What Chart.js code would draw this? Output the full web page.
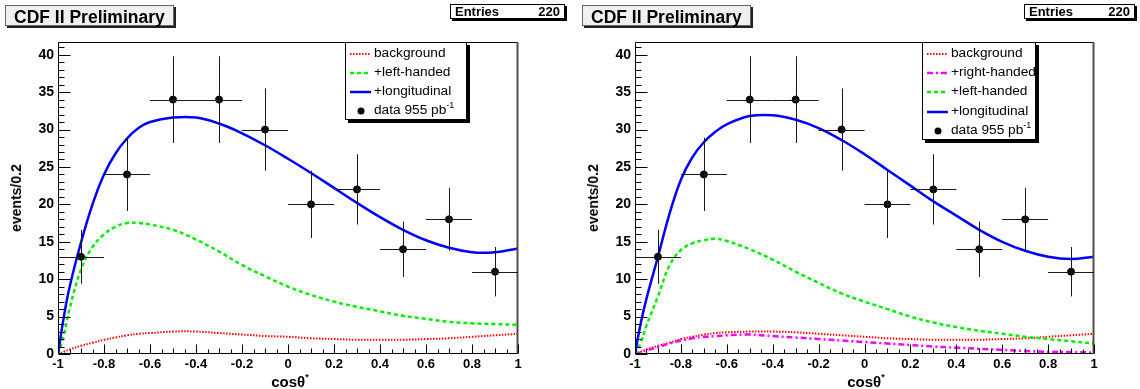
<!DOCTYPE html>
<html>
<head>
<meta charset="utf-8">
<script src="https://cdn.jsdelivr.net/npm/chart.js@4"></script>
<style>
  body { margin: 0; background: #fff; font-family: 'Liberation Sans', Arial, Helvetica, sans-serif; }
  .panel { position: absolute; top: 0; width: 570px; height: 389px; }
  .panel canvas { position: absolute; left: 0; top: 0; }
  .title { position: absolute; top: 5px; height: 21px; line-height: 22px; background: #f0f0f0;
           border: 1px solid #666; box-shadow: 2px 2px 0 #222; font-weight: bold; font-size: 17.5px;
           padding-left: 8px; box-sizing: border-box; white-space: nowrap; }
  .entries { position: absolute; top: 4px; height: 15px; background: #fff; border: 1px solid #000;
             box-shadow: 2px 2px 0 #000; font-weight: bold; font-size: 13px; line-height: 13px;
             box-sizing: border-box; padding: 0 4px; display: flex; justify-content: space-between; }
  .legend { position: absolute; top: 42px; background: #fff; border: 1px solid #000;
            box-shadow: 3px 3px 0 #000; box-sizing: border-box; font-size: 13.7px; }
  .legend .row { position: absolute; left: 0; height: 16px; line-height: 16px; white-space: nowrap; }
  .legend svg { position: absolute; left: 4px; top: 3px; }
  .legend span { position: absolute; left: 28px; top: -1px; }
  .legend sup { font-size: 9px; vertical-align: 6px; line-height: 0; }
  .ytitle { position: absolute; transform: translate(-50%, -50%) rotate(-90deg); font-weight: bold;
            font-size: 14px; white-space: nowrap; }
  .xtitle { position: absolute; transform: translate(-50%, -50%); font-weight: bold; font-size: 15px;
            white-space: nowrap; }
  .xtitle sup { font-size: 9px; vertical-align: 7px; line-height: 0; }
</style>
</head>
<body>
<div class="panel" id="p0" style="left:0"><canvas id="c0" width="570" height="389"></canvas></div>
<div class="panel" id="p1" style="left:570px"><canvas id="c1" width="570" height="389"></canvas></div>
<script>
// histogram: 10 bins of width 0.2 in cos theta*
const binCentres = [-0.9, -0.7, -0.5, -0.3, -0.1, 0.1, 0.3, 0.5, 0.7, 0.9];
const binHalfWidths = [0.1, 0.1, 0.1, 0.1, 0.1, 0.1, 0.1, 0.1, 0.1, 0.1];
const counts = [13, 24, 34, 34, 30, 20, 22, 14, 18, 11];
const countErrors = [3.6, 4.9, 5.8, 5.8, 5.5, 4.5, 4.7, 3.7, 4.2, 3.3];
const entries = 220;

// fit curves
const curveX = [-1, -0.975, -0.95, -0.9, -0.85, -0.8, -0.75, -0.7, -0.65, -0.6, -0.5, -0.4, -0.3,
                -0.2, -0.1, 0, 0.1, 0.2, 0.3, 0.4, 0.5, 0.6, 0.7, 0.8, 0.9, 1];

// left: background + left-handed + longitudinal
const leftBackground   = [0, 0.3, 0.6, 1.1, 1.5, 1.9, 2.2, 2.5, 2.7, 2.8, 3.0, 3.0, 2.8, 2.6, 2.4, 2.3, 2.1, 2.0, 1.9, 1.9, 1.9, 2.0, 2.1, 2.3, 2.5, 2.7];
const leftLeftHanded   = [0, 2.5, 6.0, 11.3, 14.3, 16.0, 17.0, 17.5, 17.5, 17.3, 16.6, 15.3, 13.7, 11.9, 10.4, 9.0, 7.9, 7.0, 6.3, 5.7, 5.1, 4.7, 4.3, 4.1, 4.0, 3.9];
const leftLongitudinal = [0, 4.9, 8.9, 14.9, 20.0, 24.0, 26.8, 28.8, 30.2, 31.0, 31.6, 31.6, 30.8, 29.5, 27.9, 26.1, 24.2, 22.2, 20.2, 18.3, 16.6, 15.2, 14.2, 13.6, 13.6, 14.1];

// right: background + right-handed + left-handed + longitudinal
const rightBackground   = [0, 0.3, 0.6, 1.1, 1.5, 2.0, 2.3, 2.6, 2.8, 2.9, 3.0, 3.0, 2.9, 2.7, 2.5, 2.3, 2.1, 2.0, 1.9, 1.9, 1.9, 2.0, 2.1, 2.3, 2.5, 2.7];
const rightRightHanded  = [0, 0.2, 0.5, 0.9, 1.4, 1.8, 2.1, 2.3, 2.4, 2.5, 2.6, 2.4, 2.2, 2.0, 1.8, 1.6, 1.4, 1.2, 1.0, 0.85, 0.7, 0.55, 0.4, 0.3, 0.25, 0.2];
const rightLeftHanded   = [0, 1.5, 3.8, 7.7, 11.8, 13.9, 14.8, 15.2, 15.4, 15.1, 14.0, 12.6, 11.0, 9.5, 8.1, 7.0, 6.0, 5.0, 4.2, 3.6, 3.1, 2.7, 2.3, 2.0, 1.7, 1.4];
const rightLongitudinal = [0, 4.1, 7.4, 13.0, 18.7, 23.3, 26.3, 28.3, 29.7, 30.7, 31.8, 31.9, 31.3, 30.2, 28.6, 26.7, 24.6, 22.5, 20.4, 18.5, 16.6, 15.0, 13.8, 13.0, 12.7, 13.0];

// axes
const xTickValues = [-1, -0.8, -0.6, -0.4, -0.2, 0, 0.2, 0.4, 0.6, 0.8, 1];
const xTickLabels = ['-1', '-0.8', '-0.6', '-0.4', '-0.2', '0', '0.2', '0.4', '0.6', '0.8', '1'];
const yTickValues = [0, 5, 10, 15, 20, 25, 30, 35, 40];
const yTickLabels = ['0', '5', '10', '15', '20', '25', '30', '35', '40'];
const yMax = 41.7;

const FONT = "'Liberation Sans', Arial, Helvetica, sans-serif";

// ROOT style frame with ticks pointing inwards
const rootFrame = {
  id: 'rootFrame',
  afterDatasetsDraw(chart) {
    const { ctx, chartArea: a, scales: { x, y } } = chart;
    const L = Math.round(a.left) + 0.5, R = Math.round(a.right) - 0.5;
    const T = Math.round(a.top) + 0.5, B = Math.round(a.bottom) - 0.5;
    ctx.save();
    ctx.lineWidth = 1;
    ctx.strokeStyle = '#000';
    ctx.beginPath();
    ctx.moveTo(R, T); ctx.lineTo(L, T); ctx.lineTo(L, B); ctx.lineTo(R, B);
    ctx.stroke();
    ctx.strokeStyle = '#5a4848';
    ctx.lineWidth = 2;
    ctx.beginPath(); ctx.moveTo(R, T - 0.5); ctx.lineTo(R, B + 0.5); ctx.stroke();
    // y ticks: every unit, long ones every 5
    ctx.strokeStyle = '#000';
    ctx.lineWidth = 1;
    ctx.beginPath();
    for (let v = 0; v <= Math.floor(yMax); v++) {
      const py = Math.round(y.getPixelForValue(v)) + 0.5;
      const len = v % 5 === 0 ? 12 : 6;
      ctx.moveTo(L, py); ctx.lineTo(L + len, py);
    }
    // x ticks: every 0.05, long ones every 0.2
    for (let k = -20; k <= 20; k++) {
      const px = Math.round(x.getPixelForValue(k / 20)) + 0.5;
      const len = k % 4 === 0 ? 9 : (k % 2 === 0 ? 5 : 4);
      ctx.moveTo(px, B); ctx.lineTo(px, B - len);
    }
    ctx.stroke();
    ctx.restore();
  }
};

// horizontal (bin width) and vertical (stat) error bars for the data set
const errorBars = {
  id: 'errorBars',
  afterDatasetsDraw(chart) {
    const { ctx, scales: { x, y } } = chart;
    ctx.save();
    ctx.strokeStyle = '#1a1a1a';
    ctx.lineWidth = 1;
    ctx.beginPath();
    binCentres.forEach((c, i) => {
      const px = Math.round(x.getPixelForValue(c)) + 0.5;
      const py = Math.round(y.getPixelForValue(counts[i])) + 0.5;
      ctx.moveTo(x.getPixelForValue(c - binHalfWidths[i]), py);
      ctx.lineTo(x.getPixelForValue(c + binHalfWidths[i]), py);
      ctx.moveTo(px, y.getPixelForValue(counts[i] - countErrors[i]));
      ctx.lineTo(px, y.getPixelForValue(counts[i] + countErrors[i]));
    });
    ctx.stroke();
    ctx.restore();
  }
};

const styles = {
  background:   { color: '#ff0000', width: 2,   dash: [1.5, 1.5] },
  rightHanded:  { color: '#ff00ff', width: 2.5, dash: [6, 3, 2, 3] },
  leftHanded:   { color: '#00ee00', width: 2.5, dash: [4, 3] },
  longitudinal: { color: '#0000ff', width: 2.5, dash: [] }
};

function curveDataset(values, style, order) {
  return {
    type: 'line',
    data: curveX.map((v, i) => ({ x: v, y: values[i] })),
    borderColor: style.color,
    borderWidth: style.width,
    borderDash: style.dash,
    pointRadius: 0,
    tension: 0.4,
    fill: false,
    order: order
  };
}

function makePanel(idx, cfg) {
  const panel = document.getElementById('p' + idx);
  const datasets = cfg.curves.map((c, i) => curveDataset(c.values, styles[c.style], 10 - i));
  datasets.push({
    type: 'scatter',
    data: binCentres.map((v, i) => ({ x: v, y: counts[i] })),
    backgroundColor: '#000',
    borderColor: '#000',
    pointRadius: 3.5,
    order: 0
  });

  new Chart(document.getElementById('c' + idx), {
    data: { datasets },
    options: {
      responsive: false,
      animation: false,
      devicePixelRatio: 1,
      layout: { padding: { top: 42, right: cfg.padRight, left: 0, bottom: 0 } },
      plugins: { legend: { display: false }, tooltip: { enabled: false } },
      scales: {
        x: {
          type: 'linear', min: -1, max: 1,
          grid: { display: false, drawTicks: false },
          border: { display: false },
          afterBuildTicks: s => { s.ticks = xTickValues.map(v => ({ value: v })); },
          afterFit: s => { s.height = 35; },
          ticks: {
            padding: 3, color: '#000', maxRotation: 0, autoSkip: false,
            font: { family: FONT, size: 13, weight: 'bold' },
            callback: (v) => xTickLabels[xTickValues.indexOf(v)]
          }
        },
        y: {
          type: 'linear', min: 0, max: yMax,
          grid: { display: false, drawTicks: false },
          border: { display: false },
          afterBuildTicks: s => { s.ticks = yTickValues.map(v => ({ value: v })); },
          afterFit: s => { s.width = cfg.frameLeft; },
          ticks: {
            padding: 4, color: '#000',
            font: { family: FONT, size: 14, weight: 'bold' },
            callback: (v) => yTickLabels[yTickValues.indexOf(v)]
          }
        }
      }
    },
    plugins: [rootFrame, errorBars]
  });

  // pave: CDF II Preliminary
  const title = document.createElement('div');
  title.className = 'title';
  title.style.left = cfg.titleLeft + 'px';
  title.style.width = cfg.titleWidth + 'px';
  title.textContent = 'CDF II Preliminary';
  panel.appendChild(title);

  // stats box
  const ent = document.createElement('div');
  ent.className = 'entries';
  ent.style.left = cfg.entriesLeft + 'px';
  ent.style.width = cfg.entriesWidth + 'px';
  ent.innerHTML = '<span>Entries</span><span>' + entries + '</span>';
  panel.appendChild(ent);

  // legend
  const leg = document.createElement('div');
  leg.className = 'legend';
  leg.style.left = cfg.legend.left + 'px';
  leg.style.width = cfg.legend.width + 'px';
  leg.style.height = cfg.legend.height + 'px';
  cfg.legend.items.forEach((it, i) => {
    const row = document.createElement('div');
    row.className = 'row';
    row.style.top = (cfg.legend.rowTop + i * cfg.legend.rowStep) + 'px';
    let sample;
    if (it.style === 'data') {
      sample = '<svg width="22" height="10"><circle cx="11" cy="5" r="3.5" fill="#000"/></svg>';
    } else {
      const s = styles[it.style];
      sample = '<svg width="22" height="10"><line x1="0" y1="5" x2="21" y2="5" stroke="' + s.color +
        '" stroke-width="' + s.width + '" stroke-dasharray="' + (s.dash.length ? s.dash.join(' ') : 'none') + '"/></svg>';
    }
    row.innerHTML = sample + '<span>' + it.label + '</span>';
    leg.appendChild(row);
  });
  panel.appendChild(leg);

  const yt = document.createElement('div');
  yt.className = 'ytitle';
  yt.style.left = cfg.yTitleX + 'px';
  yt.style.top = '198px';
  yt.textContent = 'events/0.2';
  panel.appendChild(yt);

  const xt = document.createElement('div');
  xt.className = 'xtitle';
  xt.style.left = cfg.xTitleX + 'px';
  xt.style.top = '381px';
  xt.innerHTML = 'cosθ<sup>*</sup>';
  panel.appendChild(xt);
}

makePanel(0, {
  frameLeft: 58, padRight: 52,
  titleLeft: 5, titleWidth: 169,
  entriesLeft: 450, entriesWidth: 115,
  yTitleX: 16, xTitleX: 290,
  curves: [
    { values: leftBackground, style: 'background' },
    { values: leftLeftHanded, style: 'leftHanded' },
    { values: leftLongitudinal, style: 'longitudinal' }
  ],
  legend: {
    left: 345, width: 122, height: 78, rowTop: 3, rowStep: 19,
    items: [
      { label: 'background', style: 'background' },
      { label: '+left-handed', style: 'leftHanded' },
      { label: '+longitudinal', style: 'longitudinal' },
      { label: 'data 955 pb<sup>-1</sup>', style: 'data' }
    ]
  }
});

makePanel(1, {
  frameLeft: 65, padRight: 46,
  titleLeft: 12, titleWidth: 169,
  entriesLeft: 454, entriesWidth: 111,
  yTitleX: 23, xTitleX: 296,
  curves: [
    { values: rightBackground, style: 'background' },
    { values: rightRightHanded, style: 'rightHanded' },
    { values: rightLeftHanded, style: 'leftHanded' },
    { values: rightLongitudinal, style: 'longitudinal' }
  ],
  legend: {
    left: 352, width: 114, height: 98, rowTop: 3, rowStep: 19.2,
    items: [
      { label: 'background', style: 'background' },
      { label: '+right-handed', style: 'rightHanded' },
      { label: '+left-handed', style: 'leftHanded' },
      { label: '+longitudinal', style: 'longitudinal' },
      { label: 'data 955 pb<sup>-1</sup>', style: 'data' }
    ]
  }
});
</script>
</body>
</html>
